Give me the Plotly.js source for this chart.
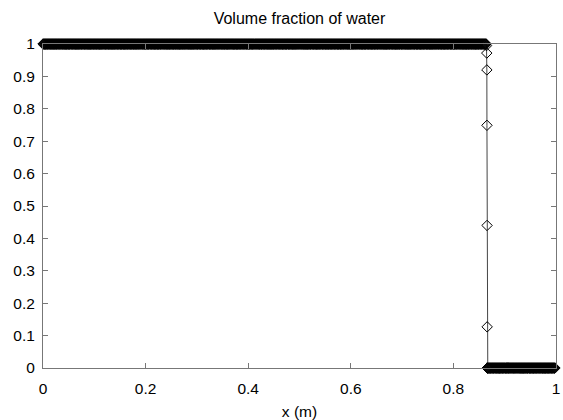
<!DOCTYPE html>
<html>
<head>
<meta charset="utf-8">
<script src="https://cdn.plot.ly/plotly-3.0.1.min.js"></script>
<style>
  html, body { margin: 0; padding: 0; background: #fff; }
  #chart { width: 563px; height: 420px; }
</style>
</head>
<body>
<div id="chart"></div>
<script>
// Mesh spacing of the 1-D computational grid (m)
const meshStep = 0.001;

// Water-filled region: alpha = 1 on [waterStart, waterEnd]
const waterStart = 0.0;
const waterEnd = 0.864;
const waterAlpha = 1;

// Interface cells, where alpha falls from 1 to 0
const interfaceX = [0.8645, 0.8650, 0.8652, 0.8654, 0.8656, 0.8658, 0.8660];
const interfaceAlpha = [0.995, 0.972, 0.920, 0.749, 0.440, 0.127, 0.0];

// Air-filled region: alpha = 0 on [airStart, airEnd]
const airStart = 0.866;
const airEnd = 0.998;
const airAlpha = 0;

// Axis ticks
const xTicks = [0, 0.2, 0.4, 0.6, 0.8, 1];
const xTickText = ['0', '0.2', '0.4', '0.6', '0.8', '1'];
const yTicks = [0, 0.1, 0.2, 0.3, 0.4, 0.5, 0.6, 0.7, 0.8, 0.9, 1];
const yTickText = ['0', '0.1', '0.2', '0.3', '0.4', '0.5', '0.6', '0.7', '0.8', '0.9', '1'];

// Assemble the cell-centre profile along the grid
const x = [];
const alpha = [];
function addPlateau(x0, x1, value) {
  const n = Math.round((x1 - x0) / meshStep);
  for (let i = 0; i <= n; i++) {
    x.push(x0 + i * meshStep);
    alpha.push(value);
  }
}
addPlateau(waterStart, waterEnd, waterAlpha);
for (let i = 0; i < interfaceX.length; i++) {
  x.push(interfaceX[i]);
  alpha.push(interfaceAlpha[i]);
}
addPlateau(airStart, airEnd, airAlpha);

const font = { family: 'Liberation Sans, Arial, Helvetica, sans-serif', color: '#000' };

const trace = {
  x: x,
  y: alpha,
  type: 'scatter',
  mode: 'lines+markers',
  line: { color: '#444', width: 1 },
  marker: { symbol: 'diamond-open', size: 8, color: '#000', line: { color: '#000', width: 1 } },
  cliponaxis: false,
  hoverinfo: 'x+y'
};

const axisCommon = {
  showgrid: false,
  zeroline: false,
  showline: true,
  linecolor: '#777',
  linewidth: 1,
  mirror: 'ticks',
  ticks: 'inside',
  ticklen: 5,
  tickcolor: '#777',
  tickfont: Object.assign({ size: 15.5 }, font)
};

const layout = {
  width: 563,
  height: 420,
  paper_bgcolor: '#fff',
  plot_bgcolor: '#fff',
  showlegend: false,
  margin: { l: 43, r: 7, t: 44, b: 52 },
  title: {
    text: 'Volume fraction of water',
    font: Object.assign({ size: 16 }, font),
    x: 0.5, xanchor: 'center',
    y: 1 - 18 / 420, yanchor: 'middle',
    yref: 'container', xref: 'paper'
  },
  xaxis: Object.assign({}, axisCommon, {
    range: [0, 1],
    tickvals: xTicks,
    ticktext: xTickText,
    ticklabelstandoff: 6,
    title: { text: 'x (m)', font: Object.assign({ size: 15.5 }, font), standoff: 11 }
  }),
  yaxis: Object.assign({}, axisCommon, {
    range: [0, 1],
    tickvals: yTicks,
    ticktext: yTickText,
    ticklabelstandoff: 4
  })
};

Plotly.newPlot('chart', [trace], layout, { staticPlot: true, displayModeBar: false });
</script>
</body>
</html>
